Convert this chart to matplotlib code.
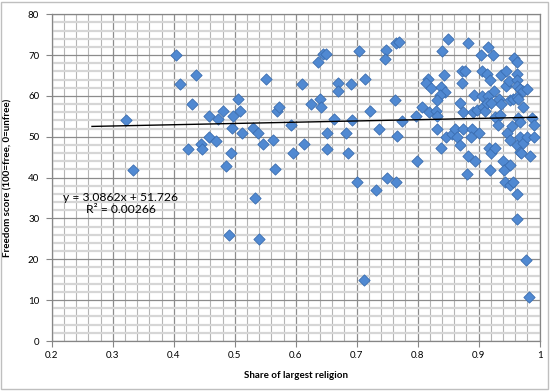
import matplotlib.pyplot as plt
from matplotlib.patches import Rectangle
import numpy as np

# share of largest religion / freedom score
share = [0.321, 0.333, 0.404, 0.410, 0.437, 0.430, 0.424, 0.444, 0.446, 0.458,
         0.458, 0.470, 0.473, 0.481, 0.486, 0.494, 0.496, 0.498, 0.506, 0.509,
         0.512, 0.530, 0.539, 0.534, 0.491, 0.540, 0.547, 0.551, 0.563, 0.566,
         0.569, 0.573,
         0.593, 0.596, 0.611, 0.613, 0.625, 0.636, 0.640, 0.641, 0.644, 0.650,
         0.651, 0.651, 0.663, 0.669, 0.670, 0.682, 0.685, 0.691, 0.693, 0.700,
         0.704, 0.713, 0.712, 0.722, 0.732, 0.737, 0.748, 0.746, 0.749, 0.763,
         0.764, 0.765, 0.769, 0.766, 0.774, 0.798, 0.799,
         0.807, 0.817, 0.814, 0.821, 0.819, 0.830, 0.831, 0.832, 0.838, 0.840,
         0.843, 0.839, 0.845, 0.837, 0.832, 0.849, 0.846, 0.856, 0.861, 0.874,
         0.889, 0.864, 0.869, 0.887, 0.869, 0.872, 0.873, 0.878, 0.875, 0.891,
         0.897, 0.883, 0.892, 0.883, 0.894, 0.881,
         0.901, 0.903, 0.905, 0.913, 0.919, 0.906, 0.915, 0.907, 0.910, 0.913,
         0.915, 0.924, 0.917, 0.921, 0.926, 0.918, 0.921, 0.925, 0.927, 0.931,
         0.935, 0.934, 0.937, 0.936, 0.945, 0.940, 0.941, 0.951, 0.945, 0.949,
         0.946, 0.952, 0.954, 0.943, 0.951, 0.956, 0.951, 0.956, 0.962, 0.964,
         0.958, 0.963, 0.962, 0.963, 0.962, 0.967, 0.973, 0.979, 0.962, 0.967,
         0.967, 0.973, 0.964, 0.968, 0.963, 0.963, 0.969, 0.972, 0.979, 0.990,
         0.984, 0.988, 0.990, 0.977, 0.983]
freedom = [54.1, 41.9, 70.0, 62.9, 65.1, 58.0, 47.0, 48.2, 47.0, 55.1,
           50.0, 49.0, 54.3, 56.2, 42.9, 46.0, 52.1, 55.1, 59.2, 56.2,
           51.0, 52.1, 51.0, 35.0, 26.0, 25.0, 48.2, 64.1, 49.1, 42.0,
           56.2, 57.2,
           52.9, 46.1, 62.9, 48.2, 58.0, 68.2, 59.2, 57.2, 70.2, 70.2,
           51.0, 47.1, 54.3, 63.3, 61.1, 50.9, 46.0, 62.9, 54.1, 39.0,
           71.1, 64.1, 14.9, 56.2, 37.0, 51.9, 71.3, 69.1, 40.0, 59.0,
           39.0, 72.9, 73.1, 50.1, 53.9, 55.2, 44.2,
           57.2, 64.1, 63.1, 61.9, 56.1, 56.4, 55.1, 51.8, 47.2, 71.0,
           65.1, 62.1, 61.0, 60.2, 59.0, 73.9, 50.0, 50.8, 51.8, 51.8,
           51.8, 50.0, 48.0, 50.0, 58.2, 63.1, 66.2, 66.2, 56.1, 56.1,
           56.5, 72.9, 60.2, 45.2, 44.1, 40.9,
           51.0, 70.0, 66.2, 65.4, 63.9, 60.0, 60.0, 57.4, 56.4, 58.2,
           72.1, 70.0, 47.2, 46.1, 47.2, 41.9, 58.2, 61.1, 54.9, 52.9,
           55.3, 59.2, 58.0, 65.1, 66.2, 44.2, 41.9, 43.1, 62.4, 63.7,
           51.0, 49.2, 52.7, 39.0, 38.2, 39.0, 59.0, 59.2, 59.8, 59.2,
           69.2, 68.2, 65.4, 63.9, 62.4, 61.6, 61.2, 61.6, 48.0, 50.0,
           46.4, 48.4, 54.5, 53.7, 36.1, 29.9, 46.1, 57.2, 50.0, 50.0,
           45.3, 54.5, 52.9, 19.8, 10.8]

# linear trendline as shown on the chart
slope = 3.0862
intercept = 51.726
r2 = 0.00266
trend_x = [0.266, 0.995]

plt.rcParams['font.family'] = ['Lato', 'DejaVu Sans']

fig = plt.figure(figsize=(5.55, 3.92), dpi=100)
ax = fig.add_axes([0.0932, 0.1301, 0.8792, 0.8334])

# outer chart border
fig.patches.append(Rectangle((0.002, 0.008), 0.985, 0.988, transform=fig.transFigure,
                             fill=False, edgecolor='#bfbfbf', linewidth=1))

ax.set_xlim(0.2, 1.0)
ax.set_ylim(0, 80)
ax.set_xticks(np.arange(0.2, 1.01, 0.1))
ax.set_xticklabels(['0.2', '0.3', '0.4', '0.5', '0.6', '0.7', '0.8', '0.9', '1'])
ax.set_yticks(np.arange(0, 81, 10))
ax.set_xticks(np.arange(0.2, 1.001, 0.02), minor=True)
ax.set_yticks(np.arange(0, 81, 2), minor=True)

ax.grid(which='minor', axis='x', color='#b5b5b5', linewidth=0.8)
ax.grid(which='minor', axis='y', color='#d6d6d6', linewidth=1.6)
ax.grid(which='major', color='#8c8c8c', linewidth=0.9)
ax.set_axisbelow(True)

for s in ax.spines.values():
    s.set_color('#868686')
    s.set_linewidth(0.9)

ax.tick_params(which='major', direction='out', length=4, color='#868686',
               labelsize=7, pad=3)
ax.tick_params(axis='y', which='major', pad=5)
ax.tick_params(which='minor', length=0)

ax.scatter(share, freedom, marker='D', s=33, color='#5089d2',
           edgecolors='#3a6db0', linewidths=0.6, zorder=3)

tx = np.array(trend_x)
ax.plot(tx, slope * tx + intercept, color='black', linewidth=1, zorder=4)

fig.text(0.218, 0.481, 'y = %.4fx + %.3f\nR² = %.5f' % (slope, intercept, r2),
         ha='center', va='center', fontsize=8.7, linespacing=1.15)

ax.set_xlabel('Share of largest religion', fontsize=7, fontweight='bold', labelpad=8)
ax.set_ylabel('Freedom score (100=free, 0=unfree)', fontsize=7, fontweight='bold',
              labelpad=11)

fig.savefig('out.png', dpi=100)
